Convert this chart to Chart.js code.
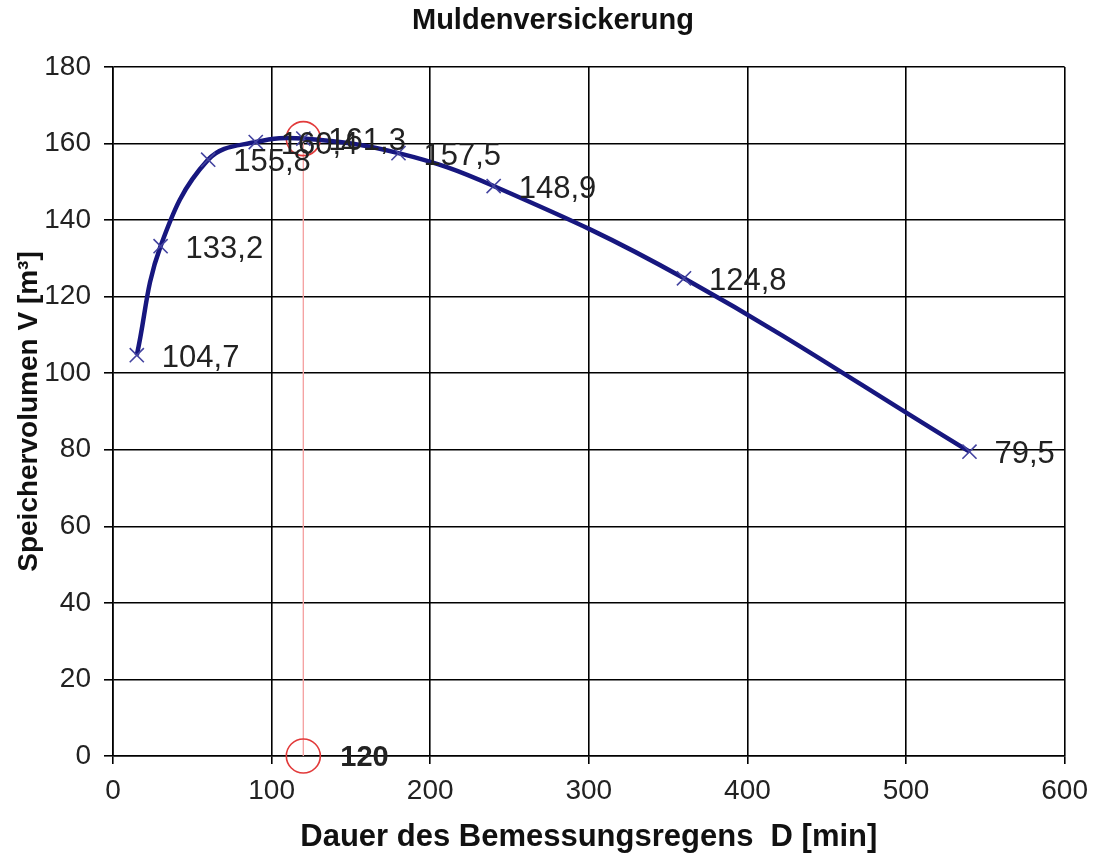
<!DOCTYPE html>
<html><head><meta charset="utf-8">
<script src="https://cdn.jsdelivr.net/npm/chart.js@4/dist/chart.umd.min.js"></script>
<style>html,body{margin:0;padding:0;background:#fff}#wrap{width:1098px;height:858px}</style>
</head><body><div id="wrap"><canvas id="c" width="1098" height="858"></canvas></div>
<script>
const durations = [15, 30, 60, 90, 120, 180, 240, 360, 540];
const volumes = [104.7, 133.2, 155.8, 160.4, 161.3, 157.5, 148.9, 124.8, 79.5];
const valueLabels = ['104,7', '133,2', '155,8', '160,4', '161,3', '157,5', '148,9', '124,8', '79,5'];
const optimumD = 120;
const optimumV = 161.3;
const optimumLabel = '120';
const xTicks = [0, 100, 200, 300, 400, 500, 600];
const yTicks = [0, 20, 40, 60, 80, 100, 120, 140, 160, 180];
const titleText = 'Muldenversickerung';
const xTitle = 'Dauer des Bemessungsregens  D [min]';
const yTitle = 'Speichervolumen V [m³]';

const FONT = '"Liberation Sans", Arial, sans-serif';

const labelPlugin = {
  id: 'labels',
  afterDraw(chart) {
    const ctx = chart.ctx;
    ctx.save();
    ctx.fillStyle = '#111';
    ctx.font = 'bold 29px ' + FONT;
    ctx.textAlign = 'center';
    ctx.textBaseline = 'middle';
    ctx.fillText(titleText, 553, 21);
    ctx.restore();
  },
  afterDatasetsDraw(chart) {
    const ctx = chart.ctx;
    const meta = chart.getDatasetMeta(0);
    ctx.save();
    ctx.fillStyle = '#222';
    ctx.font = '31px ' + FONT;
    ctx.textBaseline = 'middle';
    ctx.textAlign = 'left';
    meta.data.forEach((pt, i) => {
      ctx.fillText(valueLabels[i], pt.x + 25, pt.y + 3);
    });
    const cm = chart.getDatasetMeta(2);
    const p0 = cm.data[1];
    ctx.font = 'bold 29px ' + FONT;
    ctx.fillText(optimumLabel, p0.x + 37, p0.y + 2);
    ctx.restore();
  }
};

new Chart(document.getElementById('c'), {
  type: 'scatter',
  data: {
    datasets: [
      {
        data: durations.map((d, i) => ({x: d, y: volumes[i]})),
        showLine: true,
        borderColor: '#17177f',
        borderWidth: 4.5,
        tension: 0.4,
        pointStyle: 'crossRot',
        pointRadius: 10,
        pointBorderWidth: 1.6,
        pointBorderColor: '#4444a0',
        pointBackgroundColor: 'transparent'
      },
      {
        data: [{x: optimumD, y: optimumV}, {x: optimumD, y: 0}],
        showLine: true,
        borderColor: '#f5a3a3',
        borderWidth: 1.4,
        pointRadius: 0,
        order: 2
      },
      {
        data: [{x: optimumD, y: optimumV}, {x: optimumD, y: 0}],
        showLine: false,
        pointStyle: 'circle',
        pointRadius: 17,
        pointBorderWidth: 1.6,
        pointBorderColor: '#e23a3a',
        pointBackgroundColor: 'transparent',
        clip: false,
        order: 1
      }
    ]
  },
  options: {
    responsive: false,
    animation: false,
    devicePixelRatio: 1,
    layout: {padding: {top: 67, right: 32, left: 0, bottom: 0}},
    plugins: {
      legend: {display: false},
      tooltip: {enabled: false},
      title: {display: false}
    },
    scales: {
      x: {
        type: 'linear',
        min: 0, max: 600,
        afterBuildTicks(s) { s.ticks = xTicks.map(v => ({value: v})); },
        afterFit(s) { s.height = 102; },
        ticks: {color: '#222', font: {family: FONT, size: 28}, padding: 10, maxRotation: 0},
        grid: {color: '#000', lineWidth: 1.6, tickLength: 8, tickColor: '#000'},
        border: {color: '#000', width: 1.6},
        title: {display: true, text: xTitle, color: '#111', font: {family: FONT, size: 31, weight: 'bold'}, padding: {top: 0, bottom: 2}}
      },
      y: {
        type: 'linear',
        min: 0, max: 180,
        afterBuildTicks(s) { s.ticks = yTicks.map(v => ({value: v})); },
        afterFit(s) { s.width = 113; },
        ticks: {color: '#222', font: {family: FONT, size: 28}, padding: 13},
        grid: {color: '#000', lineWidth: 1.6, tickLength: 9, tickColor: '#000'},
        border: {color: '#000', width: 1.6},
        title: {display: true, text: yTitle, color: '#111', font: {family: FONT, size: 28, weight: 'bold'}, padding: {top: 12, bottom: 0}}
      }
    }
  },
  plugins: [labelPlugin]
});
</script>
</body></html>
